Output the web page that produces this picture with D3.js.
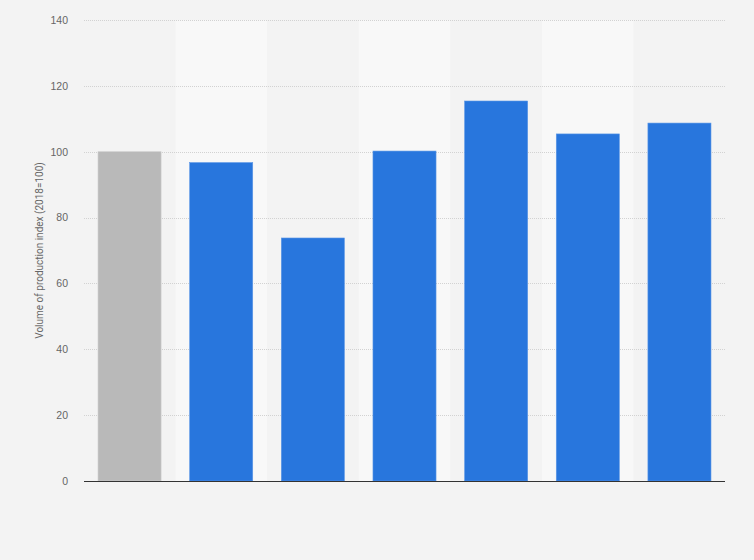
<!DOCTYPE html>
<html>
<head>
<meta charset="utf-8">
<script src="https://cdn.jsdelivr.net/npm/d3@7"></script>
<style>
  body { margin: 0; background: #f3f3f3; }
  svg { display: block; font-family: Roboto, Arial, sans-serif; }
</style>
</head>
<body>
<svg id="chart" width="754" height="560"></svg>
<script>
// categories (no labels shown on the original x axis)
var years = ["2018", "2019", "2020", "2021", "2022", "2023", "2024"];
var values = [100, 96.7, 73.8, 100.2, 115.4, 105.4, 108.7];
var yTicks = [0, 20, 40, 60, 80, 100, 120, 140];

var svg = d3.select("#chart");
var margin = { top: 20, right: 29, bottom: 79, left: 84 };
var width = 754 - margin.left - margin.right;
var height = 560 - margin.top - margin.bottom;

var g = svg.append("g").attr("transform", "translate(" + margin.left + "," + margin.top + ")");

var xScale = d3.scaleBand().domain(years).range([0, width]).paddingInner(0.312).paddingOuter(0.153);
var bandX = d3.scaleBand().domain(years).range([0, width]);
var yScale = d3.scaleLinear().domain([0, 140]).range([height, 0]);

// alternating column shading
g.selectAll(".stripe").data(years.filter((d, i) => i % 2 == 1))
  .enter().append("rect")
  .attr("x", d => bandX(d))
  .attr("y", 0)
  .attr("width", bandX.bandwidth())
  .attr("height", height)
  .attr("fill", "#f8f8f8");

// grid lines
g.selectAll(".grid").data(yTicks.filter(d => d > 0))
  .enter().append("line")
  .attr("x1", 0).attr("x2", width)
  .attr("y1", d => Math.round(yScale(d)) + 0.5)
  .attr("y2", d => Math.round(yScale(d)) + 0.5)
  .attr("stroke", "#d2d2d2")
  .attr("stroke-dasharray", "1,1");

// y axis labels
var yAxis = g.append("g")
  .call(d3.axisLeft(yScale).tickValues(yTicks).tickSize(0).tickPadding(16));
yAxis.select(".domain").remove();
yAxis.selectAll("text").attr("fill", "#666").style("font-size", "10.5px");

// bars
g.selectAll(".bar").data(values)
  .enter().append("rect")
  .attr("class", "bar")
  .attr("x", (d, i) => xScale(years[i]))
  .attr("width", xScale.bandwidth())
  .attr("y", d => yScale(d))
  .attr("height", d => height - yScale(d))
  .attr("fill", (d, i) => i == 0 ? "#b9b9b9" : "#2876dd")
  .attr("stroke", (d, i) => i == 0 ? "#cccccc" : "#5b97e6")
  .attr("stroke-width", 0.6);

// baseline
g.append("line")
  .attr("x1", 0).attr("x2", width)
  .attr("y1", height + 0.5).attr("y2", height + 0.5)
  .attr("stroke", "#333").attr("stroke-width", 1.2);

// y axis title
svg.append("text")
  .attr("transform", "translate(43," + (margin.top + height / 2) + ") rotate(-90)")
  .attr("text-anchor", "middle")
  .attr("fill", "#666")
  .style("font-size", "10px")
  .text("Volume of production index (2018=100)");
</script>
</body>
</html>
